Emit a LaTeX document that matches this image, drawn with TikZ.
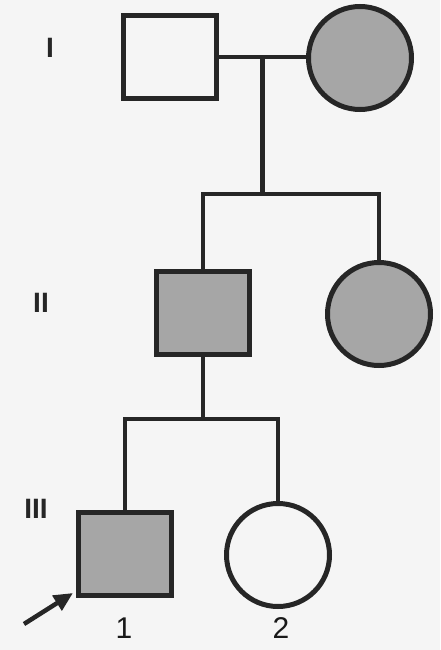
\documentclass[tikz,border=0pt]{standalone}
\usepackage{fontspec}
\setmainfont{Liberation Sans}
\usetikzlibrary{arrows.meta,calc}

\begin{document}
\begin{tikzpicture}[x=1pt, y=-1pt,
    male/.style={draw=black!85, line width=5pt, minimum width=93pt, minimum height=83pt, inner sep=0pt},
    female/.style={circle, draw=black!85, line width=5pt, minimum size=103pt, inner sep=0pt},
    affected/.style={fill=black!35},
    link/.style={draw=black!85, line width=4.5pt},
    gen/.style={font=\fontsize{28}{28}\selectfont\bfseries, text=black!85},
    num/.style={font=\fontsize{30}{30}\selectfont, text=black!90}]
    % Page
    \fill[black!4] (0,0) rectangle (440,650);
    \useasboundingbox (0,0) rectangle (440,650);

    % Generation I
    \node[gen] (g1) at (50,48) {I};
    \node[male] (m1) at (170,57) {};
    \node[female, affected] (f1) at (360,58) {};
    \draw[link] (m1.east) -- (m1.east -| f1.west);
    \coordinate (d1) at ($(m1.east)!.5!(m1.east -| f1.west)$);
    \coordinate (s1) at (d1 |- 0,194);

    % Generation II
    \node[gen] (g2) at (41,303) {II};
    \node[male, affected] (m2) at (203,313) {};
    \node[female, affected] (f2) at (379,314) {};
    \draw[link] (d1) -- (s1);
    \draw[link] (m2.north) -- (m2.north |- s1) -- (f2.north |- s1) -- (f2.north);

    % Generation III
    \node[gen] (g3) at (36,509) {III};
    \node[male, affected] (m3) at (125,554) {};
    \node[female] (f3) at (278,555) {};
    \coordinate (s2) at (m2.south |- 0,419);
    \draw[link] (m2.south) -- (s2);
    \draw[link] (m3.north) -- (m3.north |- s2) -- (f3.north |- s2) -- (f3.north);

    % Numbers
    \node[num] (n1) at (124,628) {1};
    \node[num] (n2) at (281,628) {2};

    % Proband arrow
    \coordinate (a0) at (24,624);
    \draw[link, -{Triangle[width=17pt,length=19pt]}] (a0) -- ($(m3.south west)+(-3,-5)$);
\end{tikzpicture}
\end{document}
